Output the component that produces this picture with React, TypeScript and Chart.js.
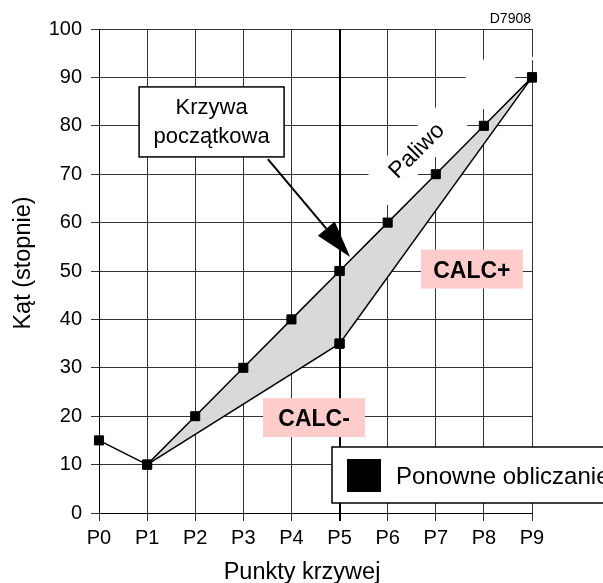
import React, { useEffect, useRef } from "react";
import { Chart, registerables } from "chart.js";

Chart.register(...registerables);

// ---- data ----
const categories = ["P0", "P1", "P2", "P3", "P4", "P5", "P6", "P7", "P8", "P9"];
const initialCurve = [15, 10, 20, 30, 40, 50, 60, 70, 80, 90];
const calcCurve = [null, 10, null, null, null, 35, null, null, null, 90];
const calcMarkerIndex = 5;
const yMin = 0;
const yMax = 100;
const yStep = 10;
const yTitle = "Kąt (stopnie)";
const xTitle = "Punkty krzywej";
const legendLabel = "Ponowne obliczanie";
const calloutLines = ["Krzywa", "początkowa"];
const fuelLabel = "Paliwo";
const calcPlusLabel = "CALC+";
const calcMinusLabel = "CALC-";
const docId = "D7908";

const FONT = "'Liberation Sans', Arial, Helvetica, sans-serif";

const overlay = {
  id: "overlay",
  beforeDatasetsDraw(chart: any) {
    const { ctx, scales } = chart;
    const x = scales.x, y = scales.y;
    // white band behind "Paliwo"
    ctx.save();
    ctx.translate(x.getPixelForValue(7.23), y.getPixelForValue(81));
    ctx.rotate(-Math.PI / 4);
    ctx.fillStyle = "#ffffff";
    ctx.fillRect(-106, -17.5, 212, 35);
    ctx.restore();

    ctx.save();
    ctx.translate(x.getPixelForValue(6.61), y.getPixelForValue(74.8));
    ctx.rotate(-Math.PI / 4);
    ctx.fillStyle = "#000";
    ctx.font = `23px ${FONT}`;
    ctx.textAlign = "center";
    ctx.textBaseline = "middle";
    ctx.fillText(fuelLabel, 0, 0);
    ctx.restore();
  },
  afterDatasetsDraw(chart: any) {
    const { ctx, scales, chartArea } = chart;
    const x = scales.x, y = scales.y;

    // thick P5 line
    ctx.save();
    const px = Math.round(x.getPixelForValue(5));
    ctx.strokeStyle = "#000";
    ctx.lineWidth = 2;
    ctx.beginPath();
    ctx.moveTo(px, chartArea.top);
    ctx.lineTo(px, chartArea.bottom + 8);
    ctx.stroke();
    ctx.restore();

    // re-draw markers at P5 over the line
    const meta = chart.getDatasetMeta(1);
    const el = meta.data[calcMarkerIndex];
    if (el) el.draw(ctx, chartArea);
    const meta0 = chart.getDatasetMeta(0);
    const el0 = meta0.data[5];
    if (el0) el0.draw(ctx, chartArea);

    // pink boxes
    const pinkBox = (cxv: number, cyv: number, label: string) => {
      const cx = x.getPixelForValue(cxv);
      const cy = y.getPixelForValue(cyv);
      ctx.save();
      ctx.fillStyle = "#ffcccc";
      ctx.fillRect(cx - 51, cy - 19.5, 102, 39);
      ctx.fillStyle = "#000";
      ctx.font = `bold 23px ${FONT}`;
      ctx.textAlign = "center";
      ctx.textBaseline = "alphabetic";
      ctx.fillText(label, cx, cy + 8.5);
      ctx.restore();
    };
    pinkBox(7.75, 50.4, calcPlusLabel);
    pinkBox(4.47, 19.7, calcMinusLabel);

    // arrow
    const sx = x.getPixelForValue(3.51), sy = y.getPixelForValue(73.1);
    const tx = x.getPixelForValue(5.22), ty = y.getPixelForValue(52.9);
    const dx = tx - sx, dy = ty - sy;
    const len = Math.hypot(dx, dy);
    const ux = dx / len, uy = dy / len;
    const bx = tx - ux * 37, by = ty - uy * 37;
    ctx.save();
    ctx.strokeStyle = "#000";
    ctx.lineWidth = 2;
    ctx.beginPath();
    ctx.moveTo(sx, sy);
    ctx.lineTo(bx, by);
    ctx.stroke();
    ctx.fillStyle = "#000";
    ctx.beginPath();
    ctx.moveTo(tx, ty);
    ctx.lineTo(bx - uy * 11, by + ux * 11);
    ctx.lineTo(bx + uy * 11, by - ux * 11);
    ctx.closePath();
    ctx.fill();
    ctx.restore();

    // callout box
    const ccx = x.getPixelForValue(2.34), ccy = y.getPixelForValue(80.8);
    ctx.save();
    ctx.fillStyle = "#fff";
    ctx.strokeStyle = "#000";
    ctx.lineWidth = 1.5;
    ctx.fillRect(ccx - 72.5, ccy - 35, 145, 70);
    ctx.strokeRect(ccx - 72.5, ccy - 35, 145, 70);
    ctx.fillStyle = "#000";
    ctx.font = `22px ${FONT}`;
    ctx.textAlign = "center";
    ctx.textBaseline = "alphabetic";
    ctx.fillText(calloutLines[0], ccx, ccy - 8);
    ctx.fillText(calloutLines[1], ccx, ccy + 21);
    ctx.restore();
  },
  afterDraw(chart: any) {
    const { ctx, chartArea } = chart;
    ctx.save();
    // legend box (clipped by canvas edge)
    ctx.fillStyle = "#fff";
    ctx.strokeStyle = "#000";
    ctx.lineWidth = 1.5;
    ctx.fillRect(332, 447, 290, 56);
    ctx.strokeRect(332, 447, 290, 56);
    ctx.fillStyle = "#000";
    ctx.fillRect(347, 459, 34, 33);
    ctx.font = `24px ${FONT}`;
    ctx.textAlign = "left";
    ctx.textBaseline = "alphabetic";
    ctx.fillText(legendLabel, 396, 484);

    // axis titles
    ctx.font = `23.5px ${FONT}`;
    ctx.textAlign = "center";
    ctx.fillText(xTitle, 302, 579);
    ctx.save();
    ctx.translate(30, 263);
    ctx.rotate(-Math.PI / 2);
    ctx.fillText(yTitle, 0, 0);
    ctx.restore();

    // doc id
    ctx.font = `14px ${FONT}`;
    ctx.textAlign = "right";
    ctx.fillText(docId, chartArea.right - 1, 23);
    ctx.restore();
  },
};

export default function App() {
  const ref = useRef<HTMLCanvasElement | null>(null);
  useEffect(() => {
    if (!ref.current) return;
    const chart = new Chart(ref.current, {
      type: "line",
      data: {
        labels: categories,
        datasets: [
          {
            data: initialCurve,
            borderColor: "#000",
            borderWidth: 1.5,
            pointStyle: "rect",
            pointRadius: 6.4,
            pointBackgroundColor: "#000",
            pointBorderColor: "#000",
            pointBorderWidth: 1,
            fill: false,
            tension: 0,
          },
          {
            data: calcCurve as any,
            borderColor: "#000",
            borderWidth: 1.5,
            pointStyle: "rect",
            pointRadius: 6.4,
            pointBackgroundColor: "#000",
            pointBorderColor: "#000",
            pointBorderWidth: 1,
            spanGaps: true,
            fill: { target: 0 },
            backgroundColor: "#d9d9d9",
            tension: 0,
          },
        ],
      },
      options: {
        animation: false,
        responsive: true,
        maintainAspectRatio: false,
        events: [],
        layout: { padding: { top: 29, right: 71, left: 0, bottom: 0 } },
        plugins: {
          legend: { display: false },
          tooltip: { enabled: false },
          title: { display: false },
        },
        scales: {
          x: {
            type: "category",
            offset: false,
            afterFit: (s: any) => {
              s.height = 70;
            },
            grid: {
              color: "#333",
              lineWidth: (c: any) => (c.index === 5 ? 2 : 1),
              drawTicks: true,
              tickLength: 8,
              tickColor: "#333",
            },
            border: { display: true, color: "#000", width: 1 },
            ticks: {
              color: "#000",
              font: { family: FONT, size: 20 },
              padding: 5,
              maxRotation: 0,
              autoSkip: false,
            },
          },
          y: {
            min: yMin,
            max: yMax,
            afterFit: (s: any) => {
              s.width = 99;
            },
            grid: {
              color: "#333",
              lineWidth: 1,
              drawTicks: true,
              tickLength: 8,
              tickColor: "#333",
            },
            border: { display: true, color: "#000", width: 1 },
            ticks: {
              stepSize: yStep,
              color: "#000",
              font: { family: FONT, size: 20 },
              padding: 9,
            },
          },
        },
      },
      plugins: [overlay],
    });
    return () => chart.destroy();
  }, []);

  return (
    <div
      style={{
        position: "fixed",
        left: 0,
        top: 0,
        width: 603,
        height: 583,
        background: "#fff",
        overflow: "hidden",
      }}
    >
      <canvas ref={ref} />
    </div>
  );
}
